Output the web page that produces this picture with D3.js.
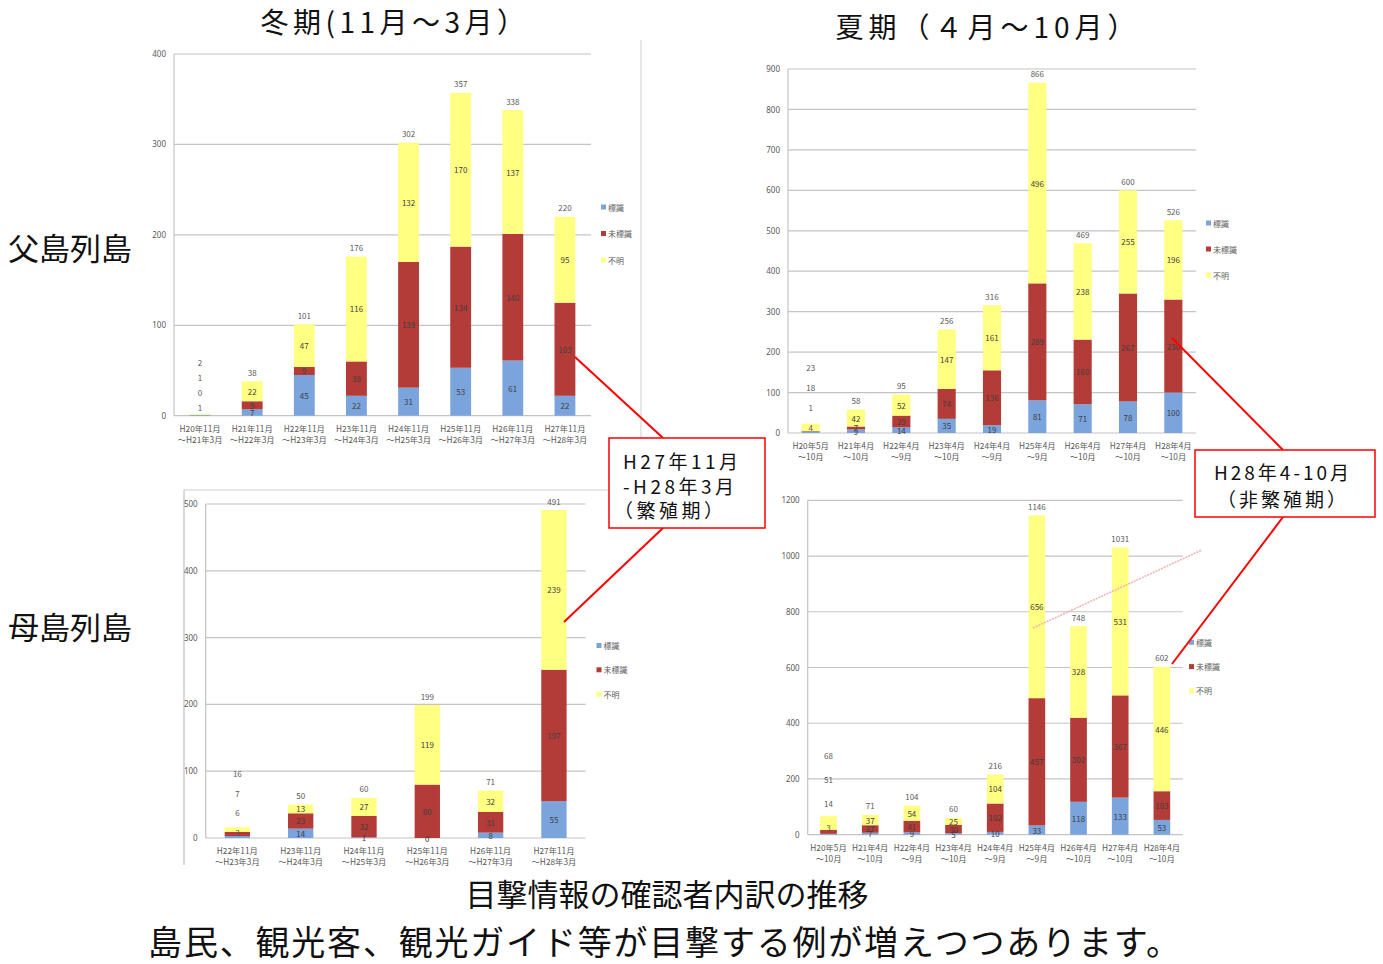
<!DOCTYPE html>
<html><head><meta charset="utf-8">
<script src="https://cdn.jsdelivr.net/npm/d3@7"></script>
<style>
html,body{margin:0;padding:0;background:#fff;overflow:hidden;}
svg{display:block;}
svg text{font-family:"Noto Sans CJK JP","Noto Sans",sans-serif;}
</style></head>
<body><svg id="c" width="1383" height="964"></svg>
<script>
// ---------- data ----------
const seriesNames = ["標識", "未標識", "不明"];

const chichiWinterCats = [["H20年11月","～H21年3月"],["H21年11月","～H22年3月"],["H22年11月","～H23年3月"],["H23年11月","～H24年3月"],["H24年11月","～H25年3月"],["H25年11月","～H26年3月"],["H26年11月","～H27年3月"],["H27年11月","～H28年3月"]];
const chichiWinterMarked   = [1, 7, 45, 22, 31, 53, 61, 22];
const chichiWinterUnmarked = [0, 9, 9, 38, 139, 134, 140, 103];
const chichiWinterUnknown  = [1, 22, 47, 116, 132, 170, 137, 95];
const chichiWinterTicks = [0, 100, 200, 300, 400];

const summerCats = [["H20年5月","～10月"],["H21年4月","～10月"],["H22年4月","～9月"],["H23年4月","～10月"],["H24年4月","～9月"],["H25年4月","～9月"],["H26年4月","～10月"],["H27年4月","～10月"],["H28年4月","～10月"]];
const chichiSummerMarked   = [4, 9, 14, 35, 19, 81, 71, 78, 100];
const chichiSummerUnmarked = [1, 7, 29, 74, 136, 289, 160, 267, 230];
const chichiSummerUnknown  = [18, 42, 52, 147, 161, 496, 238, 255, 196];
const chichiSummerTicks = [0, 100, 200, 300, 400, 500, 600, 700, 800, 900];

const hahaWinterCats = [["H22年11月","～H23年3月"],["H23年11月","～H24年3月"],["H24年11月","～H25年3月"],["H25年11月","～H26年3月"],["H26年11月","～H27年3月"],["H27年11月","～H28年3月"]];
const hahaWinterMarked   = [3, 14, 1, 0, 8, 55];
const hahaWinterUnmarked = [6, 23, 32, 80, 31, 197];
const hahaWinterUnknown  = [7, 13, 27, 119, 32, 239];
const hahaWinterTicks = [0, 100, 200, 300, 400, 500];

const hahaSummerMarked   = [3, 7, 9, 5, 10, 33, 118, 133, 53];
const hahaSummerUnmarked = [14, 27, 41, 30, 102, 457, 302, 367, 103];
const hahaSummerUnknown  = [51, 37, 54, 25, 104, 656, 328, 531, 446];
const hahaSummerTicks = [0, 200, 400, 600, 800, 1000, 1200];

// ---------- styles ----------
const colors = ["#7ba4dc", "#b33b38", "#ffff82"];
const gridColor = "#c4c4c4";
const textGray = "#595959";
const labelDark = "#3f3f3f";

const svg = d3.select("#c");

function drawPanel(o) {
  const n = o.cats.length;
  const x = d3.scaleBand().domain(d3.range(n)).range([o.x0, o.x1]).paddingInner(0.6).paddingOuter(0.3);
  const y = d3.scaleLinear().domain([0, o.ticks[o.ticks.length - 1]]).range([o.y0, o.y1]);
  const g = svg.append("g");

  // gridlines
  g.selectAll("line.grid").data(o.ticks).join("line")
    .attr("x1", o.x0).attr("x2", o.x1)
    .attr("y1", d => y(d)).attr("y2", d => y(d))
    .attr("stroke", gridColor).attr("stroke-width", 1.2);
  // y axis line
  g.append("line").attr("x1", o.x0).attr("x2", o.x0).attr("y1", y(0)).attr("y2", y(o.ticks[o.ticks.length-1]))
    .attr("stroke", gridColor).attr("stroke-width", 1.2);

  // y axis labels via d3 axis
  const ax = d3.axisLeft(y).tickValues(o.ticks).tickFormat(d3.format("d")).tickSize(0).tickPadding(8);
  const axg = g.append("g").attr("transform", `translate(${o.x0},0)`).call(ax);
  axg.select(".domain").remove();
  axg.selectAll("text").attr("fill", textGray).style("font-size", "8px")
     .style("font-family", '"Liberation Sans Narrow","Noto Sans",sans-serif');

  // stacked data
  const rows = o.cats.map((c, i) => ({i, v: [o.a[i], o.b[i], o.c[i]]}));
  const stack = d3.stack().keys([0, 1, 2]).value((d, k) => d.v[k]);
  const layers = stack(rows);

  layers.forEach((layer, k) => {
    g.selectAll(null).data(layer).join("rect")
      .attr("x", (d, i) => x(i))
      .attr("width", x.bandwidth())
      .attr("y", d => y(d[1]))
      .attr("height", d => Math.max(0, y(d[0]) - y(d[1])))
      .attr("fill", colors[k]);
  });

  // segment labels
  layers.forEach((layer, k) => {
    g.selectAll(null).data(layer).join("text")
      .attr("x", (d, i) => x(i) + x.bandwidth() / 2)
      .attr("y", (d, i) => i === 0 ? o.y0 - o.stagBase - k * o.stagStep : y((d[0] + d[1]) / 2))
      .attr("text-anchor", "middle").attr("dominant-baseline", "central")
      .attr("fill", (d, i) => i === 0 ? textGray : labelDark)
      .style("font-size", "8px")
      .text((d, i) => rows[i].v[k]);
  });
  // total labels
  g.selectAll(null).data(rows).join("text")
    .attr("x", d => x(d.i) + x.bandwidth() / 2)
    .attr("y", d => d.i === 0 ? o.y0 - o.stagBase - 3 * o.stagStep : y(d3.sum(d.v)) - 9)
    .attr("text-anchor", "middle").attr("dominant-baseline", "central")
    .attr("fill", textGray).style("font-size", "8px")
    .text(d => d3.sum(d.v));

  // category labels
  o.cats.forEach((c, i) => {
    c.forEach((line, j) => {
      g.append("text").attr("x", x(i) + x.bandwidth() / 2).attr("y", o.y0 + 12 + j * 11)
        .attr("text-anchor", "middle").attr("dominant-baseline", "central")
        .attr("fill", textGray).style("font-size", "8.3px").text(line);
    });
  });

  // legend
  seriesNames.forEach((s, k) => {
    const ly = o.legY + k * o.legGap;
    g.append("rect").attr("x", o.legX).attr("y", ly - 2.5).attr("width", 5).attr("height", 5).attr("fill", colors[k]);
    g.append("text").attr("x", o.legX + 7).attr("y", ly).attr("dominant-baseline", "central")
      .attr("fill", textGray).style("font-size", "8px").text(s);
  });
}

// frame lines (slide decorations)
svg.append("line").attr("x1", 641).attr("x2", 641).attr("y1", 40).attr("y2", 490).attr("stroke", "#cfcfcf").attr("stroke-width", 1);
svg.append("line").attr("x1", 184).attr("x2", 641).attr("y1", 490).attr("y2", 490).attr("stroke", "#cfcfcf").attr("stroke-width", 1);
svg.append("line").attr("x1", 184).attr("x2", 184).attr("y1", 490).attr("y2", 865).attr("stroke", "#b5b5b5").attr("stroke-width", 1);

drawPanel({cats: chichiWinterCats, a: chichiWinterMarked, b: chichiWinterUnmarked, c: chichiWinterUnknown,
  ticks: chichiWinterTicks, x0: 174, x1: 591, y0: 415.7, y1: 54, legX: 601, legY: 207, legGap: 26.5, stagBase: 8, stagStep: 15});
drawPanel({cats: summerCats, a: chichiSummerMarked, b: chichiSummerUnmarked, c: chichiSummerUnknown,
  ticks: chichiSummerTicks, x0: 788, x1: 1196, y0: 433, y1: 69, legX: 1206, legY: 223, legGap: 26, stagBase: 6, stagStep: 20});
drawPanel({cats: hahaWinterCats, a: hahaWinterMarked, b: hahaWinterUnmarked, c: hahaWinterUnknown,
  ticks: hahaWinterTicks, x0: 205.7, x1: 585.6, y0: 838, y1: 504, legX: 596.5, legY: 645.5, legGap: 24.3, stagBase: 6, stagStep: 19.5});
drawPanel({cats: summerCats, a: hahaSummerMarked, b: hahaSummerUnmarked, c: hahaSummerUnknown,
  ticks: hahaSummerTicks, x0: 807.7, x1: 1182.7, y0: 834.7, y1: 500.3, legX: 1189, legY: 642.3, legGap: 24.3, stagBase: 7, stagStep: 24});

// faint stray line in the bottom-right panel
svg.append("line").attr("x1", 1033).attr("y1", 628).attr("x2", 1202).attr("y2", 550)
  .attr("stroke", "#f3b3b3").attr("stroke-width", 1.6).attr("stroke-dasharray", "2,1");

// callout connectors
const red = "#ff0000";
[[575, 357, 663, 438], [663, 528, 564, 622], [1172, 338, 1283, 450], [1283, 517, 1172, 664]].forEach(l => {
  svg.append("line").attr("x1", l[0]).attr("y1", l[1]).attr("x2", l[2]).attr("y2", l[3]).attr("stroke", red).attr("stroke-width", 2);
});
// callout boxes
svg.append("rect").attr("x", 609).attr("y", 438).attr("width", 156).attr("height", 90).attr("fill", "#fff").attr("stroke", red).attr("stroke-width", 1.5);
[["H27年11月", 460, 623], ["-H28年3月", 485, 623], ["（繁殖期）", 509, 614]].forEach(t => {
  svg.append("text").attr("x", t[2]).attr("y", t[1]).attr("dominant-baseline", "central")
    .style("font-size", "19px").style("letter-spacing", "3.5px").attr("fill", "#111").text(t[0]);
});
svg.append("rect").attr("x", 1195).attr("y", 450).attr("width", 180).attr("height", 67).attr("fill", "#fff").attr("stroke", red).attr("stroke-width", 1.5);
[["H28年4-10月", 471.5], ["（非繁殖期）", 498.5]].forEach(t => {
  svg.append("text").attr("x", 1283).attr("y", t[1]).attr("text-anchor", "middle").attr("dominant-baseline", "central")
    .style("font-size", "19px").style("letter-spacing", "3px").attr("fill", "#111").text(t[0]);
});

// titles
svg.append("text").attr("x", 395).attr("y", 21).attr("text-anchor", "middle").attr("dominant-baseline", "central")
  .style("font-size", "28px").style("letter-spacing", "4.5px").attr("fill", "#111").text("冬期(11月～3月）");
svg.append("text").attr("x", 988).attr("y", 26).attr("text-anchor", "middle").attr("dominant-baseline", "central")
  .style("font-size", "28px").style("letter-spacing", "5px").attr("fill", "#111").text("夏期（４月～10月）");

// row labels
svg.append("text").attr("x", 8).attr("y", 246).attr("dominant-baseline", "central")
  .style("font-size", "31px").attr("fill", "#111").text("父島列島");
svg.append("text").attr("x", 8).attr("y", 625).attr("dominant-baseline", "central")
  .style("font-size", "31px").attr("fill", "#111").text("母島列島");

// bottom texts
svg.append("text").attr("x", 667).attr("y", 892).attr("text-anchor", "middle").attr("dominant-baseline", "central")
  .style("font-size", "31px").attr("fill", "#111").text("目撃情報の確認者内訳の推移");
svg.append("text").attr("x", 665).attr("y", 940).attr("text-anchor", "middle").attr("dominant-baseline", "central")
  .style("font-size", "34px").style("letter-spacing", "1.8px").attr("fill", "#111").text("島民、観光客、観光ガイド等が目撃する例が増えつつあります。");
</script>
</body></html>
